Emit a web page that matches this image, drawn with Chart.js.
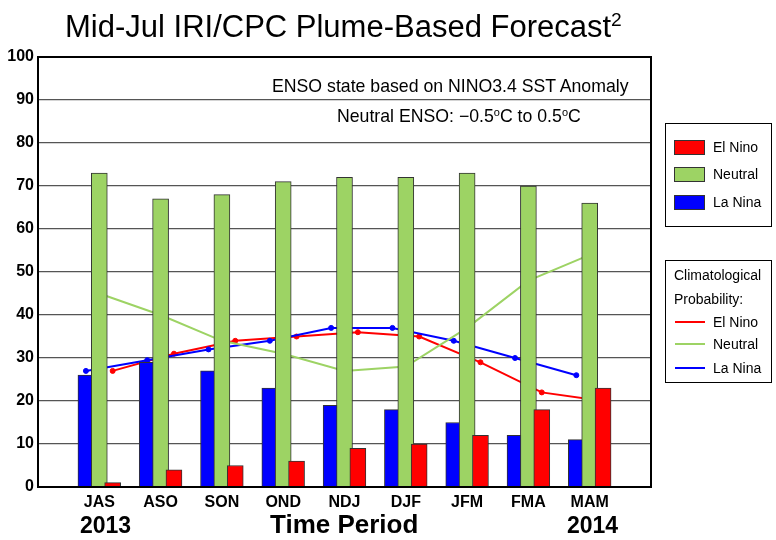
<!DOCTYPE html>
<html>
<head>
<meta charset="utf-8">
<script src="https://cdn.jsdelivr.net/npm/chart.js@4.4.1/dist/chart.umd.min.js"></script>
<style>
  html, body { margin: 0; padding: 0; background: #fff; }
  #wrap { position: relative; width: 776px; height: 540px; font-family: "Liberation Sans", Arial, Helvetica, sans-serif; color: #000; }
  #wrap canvas { position: absolute; left: 0; top: 0; }
  .t { position: absolute; white-space: nowrap; line-height: 1; }
  sup { font-size: 62%; vertical-align: 0; position: relative; top: -0.55em; }
  .box { position: absolute; border: 1px solid #000; background: #fff; }
  .sw { position: absolute; width: 29px; height: 13px; border: 1px solid #333; }
  .ln { position: absolute; width: 30px; height: 2px; }
</style>
</head>
<body>
<div id="wrap">
  <canvas id="c" width="776" height="540"></canvas>

  <div class="t" style="left:65px; top:11px; font-size:31px;">Mid-Jul IRI/CPC Plume-Based Forecast<sup>2</sup></div>

  <div class="t" style="left:272px; top:78px; font-size:17.7px;">ENSO state based on NINO3.4 SST Anomaly</div>
  <div class="t" style="left:337px; top:108px; font-size:17.7px;">Neutral ENSO: −0.5<sup>o</sup>C to 0.5<sup>o</sup>C</div>

  <div class="t" style="left:80px; top:514px; font-size:23px; font-weight:bold;">2013</div>
  <div class="t" style="left:270px; top:511px; font-size:26px; font-weight:bold;">Time Period</div>
  <div class="t" style="left:567px; top:514px; font-size:23px; font-weight:bold;">2014</div>

  <div class="box" style="left:665px; top:123px; width:105px; height:102px;"></div>
  <div class="sw" style="left:674px; top:140px; background:#ff0000;"></div>
  <div class="t" style="left:713px; top:140px; font-size:14px;">El Nino</div>
  <div class="sw" style="left:674px; top:167px; background:#9dd364;"></div>
  <div class="t" style="left:713px; top:167px; font-size:14px;">Neutral</div>
  <div class="sw" style="left:674px; top:195px; background:#0000ff;"></div>
  <div class="t" style="left:713px; top:195px; font-size:14px;">La Nina</div>

  <div class="box" style="left:665px; top:260px; width:105px; height:121px;"></div>
  <div class="t" style="left:674px; top:268px; font-size:14px;">Climatological</div>
  <div class="t" style="left:674px; top:292px; font-size:14px;">Probability:</div>
  <div class="ln" style="left:675px; top:321px; background:#ff0000;"></div>
  <div class="t" style="left:713px; top:315px; font-size:14px;">El Nino</div>
  <div class="ln" style="left:675px; top:343px; background:#9dd364;"></div>
  <div class="t" style="left:713px; top:337px; font-size:14px;">Neutral</div>
  <div class="ln" style="left:675px; top:367px; background:#0000ff;"></div>
  <div class="t" style="left:713px; top:361px; font-size:14px;">La Nina</div>
</div>

<script>
// ---- data ----
const periods = ['JAS', 'ASO', 'SON', 'OND', 'NDJ', 'DJF', 'JFM', 'FMA', 'MAM'];
const elNino  = [1, 4, 5, 6, 9, 10, 12, 18, 23];
const neutral = [73, 67, 68, 71, 72, 72, 73, 70, 66];
const laNina  = [26, 29, 27, 23, 19, 18, 15, 12, 11];
const climElNino  = [27, 31, 34, 35, 36, 35, 29, 22, 20];
const climNeutral = [45, 40, 34, 31, 27, 28, 37, 48, 54];
const climLaNina  = [27, 29.5, 32, 34, 37, 37, 34, 30, 26];
const yTicks = [0, 10, 20, 30, 40, 50, 60, 70, 80, 90, 100];

// ---- styles ----
const RED = '#ff0000', GREEN = '#9dd364', BLUE = '#0000ff';
const SHIFT = 0.218; // bar offset within a period (axis units)

function pts(vals, dx) { return vals.map((v, i) => ({ x: i + 1 + dx, y: v })); }

const frame = {
  id: 'frame',
  afterDatasetsDraw(chart) {
    const a = chart.chartArea, ctx = chart.ctx;
    ctx.save();
    ctx.strokeStyle = '#000';
    ctx.lineWidth = 2;
    ctx.strokeRect(a.left, a.top, a.right - a.left, a.bottom - a.top);
    ctx.restore();
  }
};

const barCommon = { type: 'bar', grouped: false, barThickness: 16, borderColor: '#333', borderWidth: 1, borderSkipped: 'bottom' };
const lineCommon = { type: 'line', borderWidth: 2, pointRadius: 2.5, pointBorderWidth: 1, tension: 0, order: 10 };

new Chart(document.getElementById('c'), {
  type: 'bar',
  data: {
    datasets: [
      Object.assign({ label: 'La Nina', data: pts(laNina, -SHIFT), backgroundColor: BLUE, order: 3 }, barCommon),
      Object.assign({ label: 'Neutral', data: pts(neutral, 0), backgroundColor: GREEN, order: 2 }, barCommon),
      Object.assign({ label: 'El Nino', data: pts(elNino, SHIFT), backgroundColor: RED, order: 1 }, barCommon),
      Object.assign({ label: 'Clim Neutral', data: pts(climNeutral, 0), borderColor: GREEN, backgroundColor: GREEN, pointRadius: 0 }, lineCommon),
      Object.assign({ label: 'Clim La Nina', data: pts(climLaNina, -SHIFT), borderColor: BLUE, backgroundColor: BLUE }, lineCommon),
      Object.assign({ label: 'Clim El Nino', data: pts(climElNino, SHIFT), borderColor: RED, backgroundColor: RED }, lineCommon)
    ]
  },
  options: {
    responsive: false,
    animation: false,
    events: [],
    layout: { padding: { left: 0, top: 57, right: 125, bottom: 0 } },
    plugins: { legend: { display: false }, tooltip: { enabled: false }, title: { display: false } },
    scales: {
      x: {
        type: 'linear', min: 0, max: 10, offset: false,
        afterFit(s) { s.height = 53; },
        afterBuildTicks(s) { s.ticks = periods.map((p, i) => ({ value: i + 1 })); },
        ticks: {
          autoSkip: false, maxRotation: 0, padding: 6, color: '#000',
          font: { family: 'Liberation Sans', size: 16, weight: 'bold' },
          callback(v) { return periods[v - 1] || ''; }
        },
        grid: { display: false, drawTicks: false, tickLength: 0 },
        border: { display: false }
      },
      y: {
        min: 0, max: 100,
        afterFit(s) { s.width = 38; },
        afterBuildTicks(s) { s.ticks = yTicks.map(v => ({ value: v })); },
        ticks: {
          padding: 4, color: '#000',
          font: { family: 'Liberation Sans', size: 16, weight: 'bold' }
        },
        grid: { color: '#555', lineWidth: 1.2, drawTicks: false },
        border: { display: false }
      }
    }
  },
  plugins: [frame]
});
</script>
</body>
</html>
